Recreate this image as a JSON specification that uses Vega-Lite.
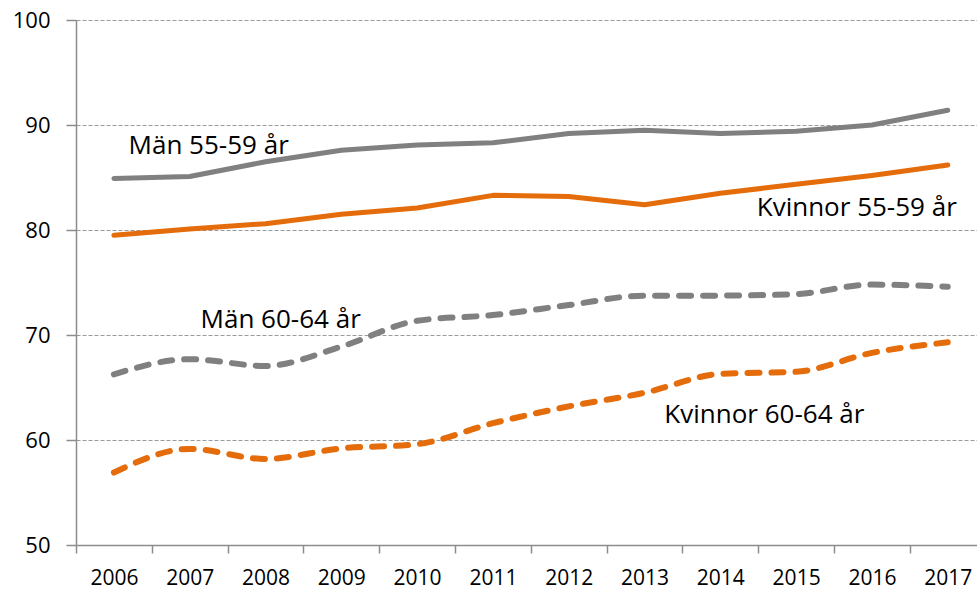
{
  "$schema": "https://vega.github.io/schema/vega-lite/v6.json",
  "width": 901,
  "height": 525,
  "autosize": {"type": "none"},
  "padding": {"left": 76, "top": 20, "right": 0, "bottom": 45},
  "background": "white",
  "config": {"view": {"stroke": null}, "font": "Open Sans"},
  "datasets": {
    "lines": [
      {"year": 2006, "sex": "Män", "age": "55-59", "value": 84.9},
      {"year": 2007, "sex": "Män", "age": "55-59", "value": 85.1},
      {"year": 2008, "sex": "Män", "age": "55-59", "value": 86.5},
      {"year": 2009, "sex": "Män", "age": "55-59", "value": 87.6},
      {"year": 2010, "sex": "Män", "age": "55-59", "value": 88.1},
      {"year": 2011, "sex": "Män", "age": "55-59", "value": 88.3},
      {"year": 2012, "sex": "Män", "age": "55-59", "value": 89.2},
      {"year": 2013, "sex": "Män", "age": "55-59", "value": 89.5},
      {"year": 2014, "sex": "Män", "age": "55-59", "value": 89.2},
      {"year": 2015, "sex": "Män", "age": "55-59", "value": 89.4},
      {"year": 2016, "sex": "Män", "age": "55-59", "value": 90.0},
      {"year": 2017, "sex": "Män", "age": "55-59", "value": 91.4},
      {"year": 2006, "sex": "Kvinnor", "age": "55-59", "value": 79.5},
      {"year": 2007, "sex": "Kvinnor", "age": "55-59", "value": 80.1},
      {"year": 2008, "sex": "Kvinnor", "age": "55-59", "value": 80.6},
      {"year": 2009, "sex": "Kvinnor", "age": "55-59", "value": 81.5},
      {"year": 2010, "sex": "Kvinnor", "age": "55-59", "value": 82.1},
      {"year": 2011, "sex": "Kvinnor", "age": "55-59", "value": 83.3},
      {"year": 2012, "sex": "Kvinnor", "age": "55-59", "value": 83.2},
      {"year": 2013, "sex": "Kvinnor", "age": "55-59", "value": 82.4},
      {"year": 2014, "sex": "Kvinnor", "age": "55-59", "value": 83.5},
      {"year": 2015, "sex": "Kvinnor", "age": "55-59", "value": 84.35},
      {"year": 2016, "sex": "Kvinnor", "age": "55-59", "value": 85.2},
      {"year": 2017, "sex": "Kvinnor", "age": "55-59", "value": 86.2},
      {"year": 2006, "sex": "Män", "age": "60-64", "value": 66.25},
      {"year": 2007, "sex": "Män", "age": "60-64", "value": 67.7},
      {"year": 2008, "sex": "Män", "age": "60-64", "value": 67.05},
      {"year": 2009, "sex": "Män", "age": "60-64", "value": 68.9},
      {"year": 2010, "sex": "Män", "age": "60-64", "value": 71.35},
      {"year": 2011, "sex": "Män", "age": "60-64", "value": 71.9},
      {"year": 2012, "sex": "Män", "age": "60-64", "value": 72.85},
      {"year": 2013, "sex": "Män", "age": "60-64", "value": 73.75},
      {"year": 2014, "sex": "Män", "age": "60-64", "value": 73.75},
      {"year": 2015, "sex": "Män", "age": "60-64", "value": 73.9},
      {"year": 2016, "sex": "Män", "age": "60-64", "value": 74.8},
      {"year": 2017, "sex": "Män", "age": "60-64", "value": 74.6},
      {"year": 2006, "sex": "Kvinnor", "age": "60-64", "value": 56.9},
      {"year": 2007, "sex": "Kvinnor", "age": "60-64", "value": 59.15},
      {"year": 2008, "sex": "Kvinnor", "age": "60-64", "value": 58.2},
      {"year": 2009, "sex": "Kvinnor", "age": "60-64", "value": 59.2},
      {"year": 2010, "sex": "Kvinnor", "age": "60-64", "value": 59.6},
      {"year": 2011, "sex": "Kvinnor", "age": "60-64", "value": 61.6},
      {"year": 2012, "sex": "Kvinnor", "age": "60-64", "value": 63.2},
      {"year": 2013, "sex": "Kvinnor", "age": "60-64", "value": 64.5},
      {"year": 2014, "sex": "Kvinnor", "age": "60-64", "value": 66.3},
      {"year": 2015, "sex": "Kvinnor", "age": "60-64", "value": 66.5},
      {"year": 2016, "sex": "Kvinnor", "age": "60-64", "value": 68.3},
      {"year": 2017, "sex": "Kvinnor", "age": "60-64", "value": 69.3}
    ],
    "labels": [
      {"label": "Män 55-59 år", "year": 2007.25, "value": 87.2},
      {"label": "Kvinnor  55-59 år", "year": 2015.8, "value": 81.38},
      {"label": "Män 60-64 år", "year": 2008.2, "value": 70.64},
      {"label": "Kvinnor 60-64 år", "year": 2014.58, "value": 61.59}
    ]
  },
  "layer": [
    {
      "data": {"name": "lines"},
      "transform": [{"filter": "datum.age === '55-59'"}],
      "mark": {"type": "line", "strokeWidth": 5, "strokeCap": "round", "strokeJoin": "round"},
      "encoding": {
        "x": {
          "field": "year",
          "type": "quantitative",
          "scale": {"domain": [2005.5, 2017.386], "nice": false, "zero": false},
          "axis": {
            "title": null,
            "values": [2005.5, 2006.5, 2007.5, 2008.5, 2009.5, 2010.5, 2011.5, 2012.5, 2013.5, 2014.5, 2015.5, 2016.5],
            "labelExpr": "format(datum.value + 0.5, 'd')",
            "labelOffset": 37.9,
            "tickSize": 8,
            "tickWidth": 1.5,
            "tickColor": "#8c8c8c",
            "domainColor": "#8c8c8c",
            "domainWidth": 1.5,
            "labelFontSize": 21,
            "labelPadding": 14,
            "labelColor": "#000000",
            "labelOverlap": false,
            "labelBound": false,
            "labelFlush": false,
            "grid": false
          }
        },
        "y": {
          "field": "value",
          "type": "quantitative",
          "scale": {"domain": [50, 100], "nice": false, "zero": false},
          "axis": {
            "title": null,
            "values": [50, 60, 70, 80, 90, 100],
            "tickSize": 10,
            "tickWidth": 1.5,
            "tickColor": "#8c8c8c",
            "domainColor": "#8c8c8c",
            "domainWidth": 1.5,
            "labelFontSize": 22,
            "labelPadding": 16,
            "labelColor": "#000000",
            "labelBound": false,
            "labelFlush": false,
            "grid": true,
            "gridDash": [4, 2],
            "gridColor": "#9a9a9a",
            "gridWidth": 1
          }
        },
        "color": {
          "field": "sex",
          "type": "nominal",
          "scale": {"domain": ["Män", "Kvinnor"], "range": ["#808080", "#E46C0A"]},
          "legend": null
        },
        "detail": {"field": "age", "type": "nominal"}
      }
    },
    {
      "data": {"name": "lines"},
      "transform": [{"filter": "datum.age === '60-64'"}],
      "mark": {"type": "line", "strokeWidth": 6, "strokeCap": "round", "strokeJoin": "round", "strokeDash": [12, 12], "interpolate": "monotone"},
      "encoding": {
        "x": {"field": "year", "type": "quantitative"},
        "y": {"field": "value", "type": "quantitative"},
        "color": {"field": "sex", "type": "nominal", "legend": null},
        "detail": {"field": "age", "type": "nominal"}
      }
    },
    {
      "data": {"name": "labels"},
      "mark": {"type": "text", "fontSize": 26, "align": "center", "baseline": "alphabetic", "color": "#000000", "font": "Open Sans"},
      "encoding": {
        "x": {"field": "year", "type": "quantitative"},
        "y": {"field": "value", "type": "quantitative"},
        "text": {"field": "label"}
      }
    }
  ]
}
